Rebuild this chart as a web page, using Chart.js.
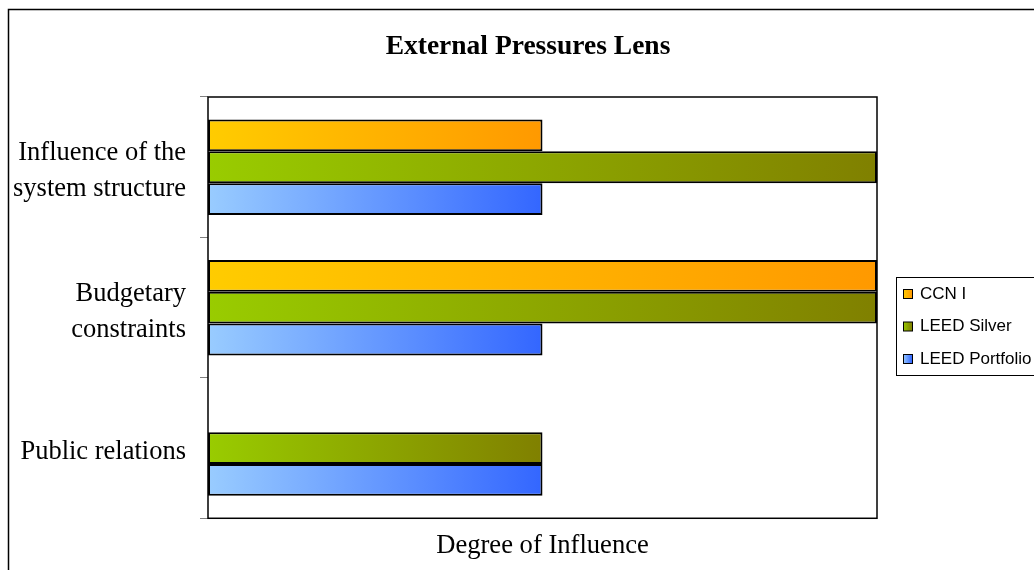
<!DOCTYPE html>
<html>
<head>
<meta charset="utf-8">
<script src="https://cdn.jsdelivr.net/npm/chart.js@4.4.1/dist/chart.umd.min.js"></script>
<style>
  html, body { margin: 0; padding: 0; background: #fff; }
  canvas { display: block; }
</style>
</head>
<body>
<canvas id="lensChart" width="1034" height="570"></canvas>
<script>
const categories = [['Influence of the', 'system structure'], ['Budgetary', 'constraints'], 'Public relations'];
const ccnValues = [1, 2, 0];
const silverValues = [2, 2, 1];
const portfolioValues = [1, 1, 1];
const seriesNames = ['CCN I', 'LEED Silver', 'LEED Portfolio'];
const chartTitle = 'External Pressures Lens';
const axisTitle = 'Degree of Influence';

const SERIF = '"Liberation Serif", "DejaVu Serif", serif';
const SANS = '"Liberation Sans", Arial, sans-serif';

// gradient running from 0 to the end of each bar
function barGradient(light, dark) {
  return ctx => {
    const chart = ctx.chart;
    if (!chart.chartArea || ctx.type !== 'data') return dark;
    const x = chart.scales.x;
    const x0 = x.getPixelForValue(0);
    const x1 = x.getPixelForValue(ctx.raw || 1);
    const g = chart.ctx.createLinearGradient(x0, 0, x1, 0);
    g.addColorStop(0, light);
    g.addColorStop(1, dark);
    return g;
  };
}

const swatches = [['#FFCC00', '#FF9900'], ['#99CC00', '#808000'], ['#99CCFF', '#3366FF']];

const framePlugin = {
  id: 'frame',
  beforeDraw(chart) {
    const c = chart.ctx;
    c.save();
    c.strokeStyle = '#000';
    c.lineWidth = 1.5;
    c.beginPath();
    c.moveTo(8.5, 570);
    c.lineTo(8.5, 9.5);
    c.lineTo(1034, 9.5);
    c.stroke();
    c.restore();
  },
  beforeDatasetsDraw(chart) {
    const a = chart.chartArea;
    const c = chart.ctx;
    c.save();
    c.strokeStyle = '#000';
    c.lineWidth = 1.5;
    c.strokeRect(a.left, a.top, a.right - a.left, a.bottom - a.top);
    c.restore();
  },
  afterDraw(chart) {
    const c = chart.ctx;
    c.save();
    // title
    c.fillStyle = '#000';
    c.font = 'bold 27.5px ' + SERIF;
    c.textAlign = 'center';
    c.textBaseline = 'middle';
    c.fillText(chartTitle, 528, 47);

    // legend
    c.strokeStyle = '#000';
    c.lineWidth = 1;
    c.strokeRect(896.5, 277.5, 160, 98);
    c.font = '17px ' + SANS;
    c.textAlign = 'left';
    chart.data.datasets.forEach((ds, i) => {
      const y = 294 + i * 32.5;
      const g = c.createLinearGradient(903, 0, 912, 0);
      g.addColorStop(0, swatches[i][0]);
      g.addColorStop(1, swatches[i][1]);
      c.fillStyle = g;
      c.fillRect(903.5, y - 4.5, 9, 9);
      c.strokeRect(903.5, y - 4.5, 9, 9);
      c.fillStyle = '#000';
      c.fillText(ds.label, 920, y);
    });
    c.restore();
  }
};

function makeDataset(i, values) {
  return {
    label: seriesNames[i],
    data: values,
    backgroundColor: barGradient(swatches[i][0], swatches[i][1]),
    borderColor: '#000',
    borderWidth: ctx => (ctx.raw ? 2 : 0),
    borderSkipped: false,
    categoryPercentage: 0.68,
    barPercentage: 1
  };
}

new Chart(document.getElementById('lensChart').getContext('2d'), {
  type: 'bar',
  data: {
    labels: categories,
    datasets: [
      makeDataset(0, ccnValues),
      makeDataset(1, silverValues),
      makeDataset(2, portfolioValues)
    ]
  },
  options: {
    indexAxis: 'y',
    responsive: false,
    animation: false,
    layout: { padding: { left: 0, right: 157, top: 97, bottom: 8.4 } },
    plugins: {
      legend: { display: false },
      title: { display: false },
      tooltip: { enabled: false }
    },
    scales: {
      x: {
        min: 0,
        max: 2,
        ticks: { display: false },
        grid: { display: false },
        border: { display: false },
        title: {
          display: true,
          text: axisTitle,
          color: '#000',
          font: { family: SERIF, size: 26.6, lineHeight: 1.2 },
          padding: { top: 3.4, bottom: 0 }
        }
      },
      y: {
        afterFit: s => { s.width = 208; },
        ticks: {
          color: '#000',
          font: { family: SERIF, size: 26.5, lineHeight: 1.36 },
          padding: 14,
          labelOffset: 4
        },
        grid: {
          offset: true,
          drawOnChartArea: false,
          drawTicks: true,
          tickLength: 8,
          color: '#808080'
        },
        border: { display: false }
      }
    }
  },
  plugins: [framePlugin]
});
</script>
</body>
</html>
